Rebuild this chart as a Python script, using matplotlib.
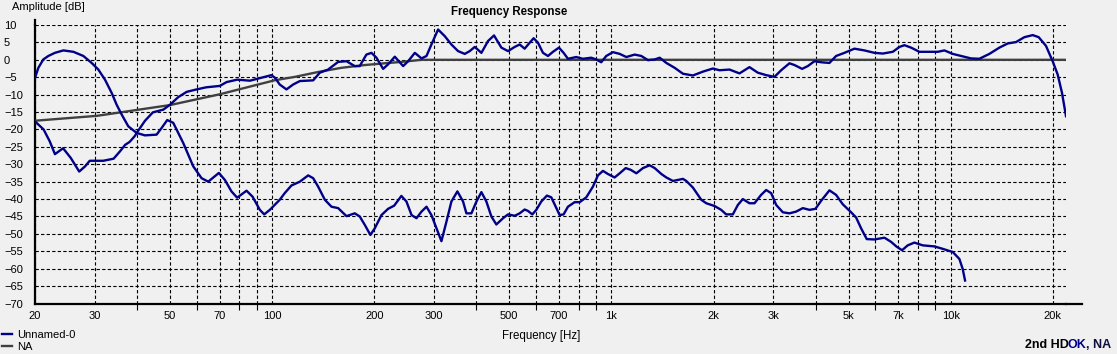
import matplotlib
matplotlib.use("Agg")
import matplotlib.pyplot as plt
from matplotlib.ticker import FixedLocator, FixedFormatter, NullFormatter
from matplotlib.lines import Line2D

plt.rcParams['font.family'] = ['Liberation Sans', 'DejaVu Sans']
plt.rcParams['lines.scale_dashes'] = False

# ---------------- data ----------------
main_freq = [20, 21.2, 22.1, 22.9, 24.2, 25.5, 27.0, 28.1, 29.0, 31.8, 34.1, 35.6, 36.9, 38.0,
             39.3, 40.2, 42.2, 44.5, 47.8, 50.0, 52.9, 56.0, 59.9, 63.9, 70.1, 73.4, 78.9, 86.0,
             94.3, 99.5, 102, 105.3, 110.2, 115.3, 120.7, 132.1, 138.2, 146.2, 156.5, 165.6,
             175.2, 181.2, 189.6, 196.2, 203, 212.4, 219.7, 229.9, 243.3, 251.7, 263.4, 275.6,
             285.1, 294.8, 308.4, 322.7, 337.6, 353.2, 369.6, 382.3, 395.5, 413.8, 432.9, 450.9,
             473.9, 495.8, 518.7, 536.6, 555, 574.1, 590, 607.6, 628.5, 650.2, 672.6, 700.5, 723,
             744.6, 787.9, 824.3, 872.2, 902.3, 933.4, 965.6, 1010.6, 1057.8, 1106.9, 1171.2,
             1225.3, 1282, 1341.4, 1387.7, 1451.9, 1536.1, 1625.3, 1738.8, 1860.2, 1990.9, 2083.2,
             2228.8, 2385.4, 2552.6, 2701.4, 2858.3, 3024.6, 3164.6, 3348.5, 3464, 3649, 3792,
             3967, 4151, 4392, 4595, 4862, 5204, 5569, 5961, 6308, 6752, 7064, 7307, 7644, 8088,
             8657, 9160, 9583, 10141, 10730, 11483, 12150, 13004, 13919, 14729, 15585, 16491,
             17450, 18176, 19098, 19979, 20670, 21289, 21875]
main_db = [-17.7, -20, -23.4, -27.1, -25.4, -28.2, -32.1, -30.6, -29.0, -29.0, -28.4, -26.3, -24.4,
           -23.6, -22.0, -20.5, -17.5, -15.1, -14.3, -12.9, -10.7, -9.2, -8.5, -7.9, -7.5, -6.4,
           -5.7, -6.0, -5.0, -4.4, -5.2, -7.1, -8.5, -7.1, -6.1, -5.9, -3.7, -2.8, -0.6, -0.4,
           -1.8, -1.8, 1.5, 2.0, 0.6, -2.6, -1.3, 0.9, -1.8, -0.4, 2.0, 0.4, 1.1, 4.4, 8.7, 6.8,
           4.4, 2.5, 1.7, 2.5, 3.7, 2.0, 5.4, 7.0, 3.5, 2.5, 3.7, 4.4, 3.2, 4.9, 6.2, 4.9, 2.0,
           1.1, 2.3, 3.5, 2.0, 0.3, 0.8, 0.3, 0.6, 0.1, -0.7, 1.1, 2.2, 1.7, 0.8, 1.5, 1.1, -0.1,
           0.1, 0.6, -0.9, -2.3, -4.0, -4.5, -3.4, -2.5, -3.0, -2.8, -3.9, -2.1, -3.7, -4.4, -4.9,
           -3.0, -1.0, -1.5, -2.6, -1.8, -0.4, -0.7, -0.9, 1.1, 2.0, 3.2, 2.7, 2.0, 1.8, 2.3, 3.7,
           4.2, 3.5, 2.3, 2.3, 2.3, 2.7, 1.7, 1.1, 0.4, 0.3, 1.7, 3.5, 4.7, 5.1, 6.5, 7.1, 6.5,
           4.0, -0.4, -4.2, -9.5, -16.2]

hd2_freq = [20, 20.46, 21.16, 21.89, 22.89, 24.25, 25.96, 27.77, 29.38, 30.74, 32.16, 33.65, 34.81,
            36.01, 37.67, 39.86, 42.17, 45.64, 47.22, 49.07, 51.11, 54.7, 58.54, 61.94, 64.81,
            69.66, 72.55, 75.89, 78.86, 84.05, 87.54, 92.0, 94.75, 98.45, 105.3, 108.9, 114.0,
            120.7, 127.7, 132.1, 136.6, 143.0, 149.6, 156.5, 165.6, 175.2, 181.2, 187.5, 194.8,
            200.7, 210.0, 219.7, 228.9, 240.4, 248.8, 257.6, 266.4, 275.6, 285.1, 294.8, 305.0,
            315.5, 326.4, 337.6, 351.6, 365.4, 373.8, 386.7, 400.1, 413.8, 428.0, 442.8, 458.0,
            479.4, 495.8, 518.7, 536.6, 555, 567.6, 584.6, 600.7, 621.4, 645.7, 665, 688, 703.8,
            723, 744.6, 779, 806, 843.3, 882.5, 912.6, 944.2, 976.7, 1022, 1057.8, 1101.9, 1140,
            1184.6, 1238.9, 1296.4, 1341.4, 1403.5, 1451.9, 1518.9, 1625.3, 1662.5, 1738.8, 1840,
            1903.6, 2013.8, 2106.8, 2179.4, 2280.3, 2358.8, 2440, 2552.6, 2640.9, 2762.8, 2858.3,
            2957.5, 3060.3, 3201.6, 3348.5, 3503.7, 3666, 3836, 3995, 4151, 4392, 4595, 4808,
            5088, 5264, 5445, 5658, 5961, 6380, 6675, 6934, 7190, 7471, 7817, 8272, 8954, 9475,
            10141, 10609, 10852, 11026]
hd2_db = [-5.2, -2.3, 0.1, 1.1, 2.0, 2.7, 2.3, 1.1, -0.9, -2.8, -5.7, -9.5, -12.9, -15.7, -19.1,
          -21.0, -21.7, -21.5, -19.6, -17.3, -18.1, -23.9, -30.6, -34.0, -35.0, -32.5, -34.5,
          -37.8, -39.6, -37.6, -39.3, -43.1, -44.4, -43.1, -40.2, -38.3, -36.1, -35.0, -33.2,
          -34.0, -36.4, -40.2, -42.2, -42.6, -44.9, -44.1, -45.0, -47.4, -50.3, -48.4, -44.6,
          -42.8, -41.9, -39.1, -40.7, -44.6, -45.5, -43.6, -42.2, -44.6, -48.4, -52.1, -46.5,
          -40.7, -37.8, -40.7, -44.1, -44.1, -40.7, -38.0, -40.7, -45.0, -47.3, -45.5, -44.4,
          -44.8, -44.1, -43.0, -43.4, -44.4, -43.1, -40.7, -39.0, -39.5, -42.6, -44.6, -44.4,
          -42.2, -40.9, -40.9, -39.5, -36.4, -33.2, -31.9, -32.8, -33.8, -32.6, -31.1, -31.6,
          -32.6, -31.1, -30.3, -31.1, -32.8, -33.8, -34.8, -34.2, -34.8, -36.7, -40.2, -41.2,
          -42.0, -43.1, -44.4, -44.4, -41.7, -40.0, -41.2, -41.2, -38.8, -37.4, -38.3, -41.7,
          -43.8, -44.1, -43.6, -42.6, -43.1, -42.8, -40.5, -37.5, -38.8, -41.5, -43.8, -45.3,
          -48.4, -51.5, -51.6, -51.1, -52.3, -53.7, -54.7, -53.3, -52.5, -53.3, -53.6, -54.3,
          -55.2, -57.2, -60.1, -63.4]

target_freq = [20, 30.4, 50, 70.1, 102, 116.7, 136.6, 160, 187.6, 214.7, 240.5, 275.5, 21875]
target_db = [-17.5, -16.1, -13.0, -9.9, -5.85, -4.9, -3.5, -2.3, -1.5, -1.0, -0.6, 0.0, 0.0]

xtick_vals = [20, 30, 50, 70, 100, 200, 300, 500, 700, 1000, 2000, 3000, 5000, 7000, 10000, 20000]
xtick_labels = ['20', '30', '50', '70', '100', '200', '300', '500', '700', '1k', '2k', '3k',
                '5k', '7k', '10k', '20k']
xminor_vals = [40, 60, 80, 90, 400, 600, 800, 900, 4000, 6000, 8000, 9000]
ytick_vals = list(range(-70, 15, 5))

# ---------------- figure ----------------
W, H = 1117, 354
BG = '#f0f0f0'
NAVY = '#000088'
GRAY = '#404040'

fig = plt.figure(figsize=(W / 100, H / 100), dpi=100, facecolor=BG)
ax_l, ax_r, ax_t, ax_b = 35, 1066, 25, 303.5
ax = fig.add_axes([ax_l / W, 1 - ax_b / H, (ax_r - ax_l) / W, (ax_b - ax_t) / H])
ax.set_facecolor(BG)

ax.plot(target_freq, target_db, color=GRAY, lw=1.7, label='NA', zorder=3)
ax.plot(hd2_freq, hd2_db, color=NAVY, lw=1.7, zorder=4)
ax.plot(main_freq, main_db, color=NAVY, lw=1.7, label='Unnamed-0', zorder=4)

ax.set_xscale('log')
ax.set_xlim(20, 21875)
ax.set_ylim(-70, 10)

ax.xaxis.set_major_locator(FixedLocator(xtick_vals))
ax.xaxis.set_major_formatter(FixedFormatter(xtick_labels))
ax.xaxis.set_minor_locator(FixedLocator(xminor_vals))
ax.xaxis.set_minor_formatter(NullFormatter())
ax.yaxis.set_major_locator(FixedLocator(ytick_vals))
ax.yaxis.set_minor_locator(FixedLocator([]))

ax.tick_params(axis='x', which='major', length=0, pad=5.4, labelsize=8, colors='black')
ax.tick_params(axis='x', which='minor', length=4, width=0.8, direction='out', color='black')
ax.tick_params(axis='y', which='major', length=0, pad=22.3, labelsize=8)
for lab in ax.get_yticklabels():
    lab.set_horizontalalignment('left')

grid_kw = dict(color='black', lw=0.8, linestyle=(0, (2.4, 1.6)))
ax.grid(True, which='major', axis='both', **grid_kw)
ax.grid(True, which='minor', axis='x', **grid_kw)
ax.set_axisbelow(True)

for s in ['top', 'right']:
    ax.spines[s].set_visible(False)
for s in ['left', 'bottom']:
    ax.spines[s].set_linewidth(1.6)
    ax.spines[s].set_color('black')

# axis line extensions
yb = 1 - ax_b / H
fig.add_artist(Line2D([ax_r / W, 1082 / W], [yb, yb], color='black', lw=1.6))
fig.add_artist(Line2D([ax_l / W, ax_l / W], [1 - ax_t / H, 1 - 20 / H], color='black', lw=1.6))

# labels
ax.set_ylabel('Amplitude [dB]', rotation=0, ha='left', va='center', fontsize=8)
ax.yaxis.set_label_coords((12 - ax_l) / (ax_r - ax_l), (ax_b - 7) / (ax_b - ax_t))
ax.set_xlabel('Frequency [Hz]', va='center', fontsize=8.3)
ax.xaxis.set_label_coords((541 - ax_l) / (ax_r - ax_l), -(336 - ax_b) / (ax_b - ax_t))
ax.text((509 - ax_l) / (ax_r - ax_l), (ax_b - 12) / (ax_b - ax_t), 'Frequency Response',
        transform=ax.transAxes, ha='center', va='center', fontsize=8.3, fontweight='bold')

# legend
handles, labels = ax.get_legend_handles_labels()
order = [labels.index('Unnamed-0'), labels.index('NA')]
fig.legend([handles[i] for i in order], [labels[i] for i in order],
           loc='lower left', bbox_to_anchor=(0, 0), frameon=False, fontsize=8,
           handlelength=0.9, handletextpad=0.4, labelspacing=0.15, borderpad=0.2,
           borderaxespad=0)

# bottom-right status text, placed as a continuous run ending at x=1111 px
fig.canvas.draw()
renderer = fig.canvas.get_renderer()
ystat = 1 - 345.5 / H
fs = 9
t1 = fig.text(0, ystat, '2nd HD', ha='left', va='center', fontsize=fs,
              fontweight='bold', color='black')
t2 = fig.text(0, ystat, 'OK', ha='left', va='center', fontsize=fs,
              fontweight='bold', color=NAVY)
t3 = fig.text(0, ystat, ', NA', ha='left', va='center', fontsize=fs,
              fontweight='bold', color='#101040')
w1 = t1.get_window_extent(renderer).width
w2 = t2.get_window_extent(renderer).width
w3 = t3.get_window_extent(renderer).width
overlap = 2
x_end = 1111
x3 = x_end - w3
x2 = x3 - w2
x1 = x2 - w1 + overlap
t1.set_x(x1 / W)
t2.set_x(x2 / W)
t3.set_x(x3 / W)

fig.savefig('out.png', dpi=100, facecolor=BG)
